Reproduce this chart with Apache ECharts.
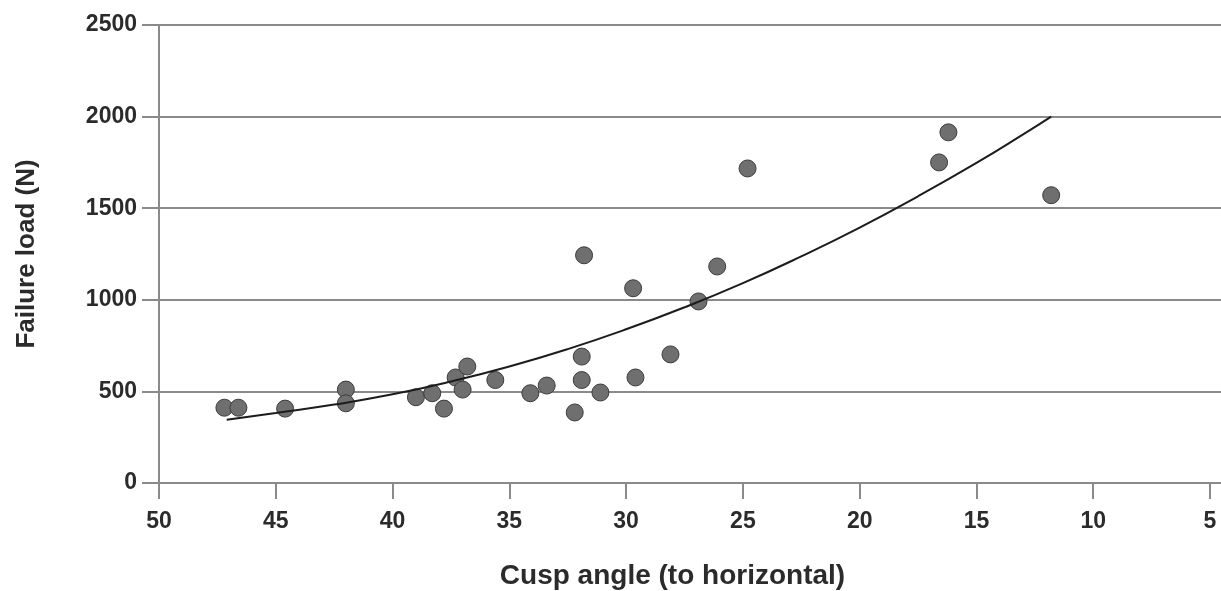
<!DOCTYPE html>
<html>
<head>
<meta charset="utf-8">
<script src="https://cdn.jsdelivr.net/npm/echarts@6/dist/echarts.min.js"></script>
<style>
html,body{margin:0;padding:0;background:#fff;}
#chart{width:1221px;height:591px;}
</style>
</head>
<body>
<div id="chart"></div>
<script>
// Measured points: cusp angle (deg) and failure load (N)
const angles = [47.2, 46.6, 44.6, 42.0, 42.0, 39.0, 38.3, 37.8, 37.3, 37.0, 36.8, 35.6, 34.1, 33.4, 32.2, 31.8, 31.9, 31.9, 31.1, 29.7, 29.6, 28.1, 26.9, 26.1, 24.8, 16.6, 16.2, 11.8];
const loads  = [411, 411, 406, 510, 435, 468, 490, 406, 576, 510, 636, 562, 490, 532, 385, 1243, 690, 562, 494, 1063, 576, 702, 991, 1182, 1717, 1750, 1914, 1571];
// Trend curve
const trendAngles = [47.1, 45, 42.5, 40, 37.5, 35, 32.5, 30, 27.5, 25, 22.5, 20, 17.5, 15, 13, 11.8];
const trendLoads  = [345, 382, 428, 484, 554, 636, 731, 839, 959, 1091, 1237, 1394, 1565, 1747, 1903, 2000];
const xTicks = [50, 45, 40, 35, 30, 25, 20, 15, 10, 5];
const yTicks = [0, 500, 1000, 1500, 2000, 2500];

const gridColor = '#8a8a8a';
const textColor = '#2b2b2b';
const font = "'Liberation Sans', Arial, sans-serif";

const chart = echarts.init(document.getElementById('chart'));
chart.setOption({
  animation: false,
  backgroundColor: '#ffffff',
  grid: { left: 159, right: 11, top: 25, bottom: 108, containLabel: false, outerBoundsMode: 'none' },
  xAxis: {
    type: 'value',
    inverse: true,
    min: xTicks[xTicks.length - 1],
    max: xTicks[0],
    interval: 5,
    name: 'Cusp angle (to horizontal)',
    nameLocation: 'middle',
    nameGap: 79,
    nameTextStyle: { fontFamily: font, fontSize: 28, fontWeight: 'bold', color: textColor, padding: [0, 24, 0, 0] },
    axisLine: { show: true, lineStyle: { color: gridColor, width: 2 } },
    axisTick: { show: true, length: 16, inside: false, lineStyle: { color: gridColor, width: 2 } },
    axisLabel: { margin: 27, fontFamily: font, fontSize: 23, fontWeight: 'bold', color: textColor, formatter: v => String(v) },
    splitLine: { show: false }
  },
  yAxis: [{
    type: 'value',
    min: yTicks[0],
    max: yTicks[yTicks.length - 1],
    interval: 500,
    name: 'Failure load (N)',
    nameLocation: 'middle',
    nameGap: 119,
    nameTextStyle: { fontFamily: font, fontSize: 26, fontWeight: 'bold', color: textColor },
    axisLine: { show: true, lineStyle: { color: gridColor, width: 2 } },
    axisTick: { show: true, length: 17, inside: false, lineStyle: { color: gridColor, width: 2 } },
    axisLabel: { margin: 22, fontFamily: font, fontSize: 23, fontWeight: 'bold', color: textColor, formatter: v => String(v) },
    splitLine: { show: true, lineStyle: { color: gridColor, width: 2 } }
  }, {
    type: 'value',
    position: 'right',
    min: yTicks[0],
    max: yTicks[yTicks.length - 1],
    interval: 500,
    axisLine: { show: false },
    axisTick: { show: true, length: 11, inside: false, lineStyle: { color: gridColor, width: 2 } },
    axisLabel: { show: false },
    splitLine: { show: false }
  }],
  series: [{
    type: 'scatter',
    data: angles.map((a, i) => [a, loads[i]]),
    symbol: 'circle',
    symbolSize: 17,
    itemStyle: { color: '#6f6f6f', borderColor: '#3c3c3c', borderWidth: 1, opacity: 1 },
    z: 2
  }, {
    type: 'line',
    data: trendAngles.map((a, i) => [a, trendLoads[i]]),
    smooth: true,
    showSymbol: false,
    symbol: 'none',
    lineStyle: { color: '#1c1c1c', width: 2 },
    z: 3
  }]
});
</script>
</body>
</html>
